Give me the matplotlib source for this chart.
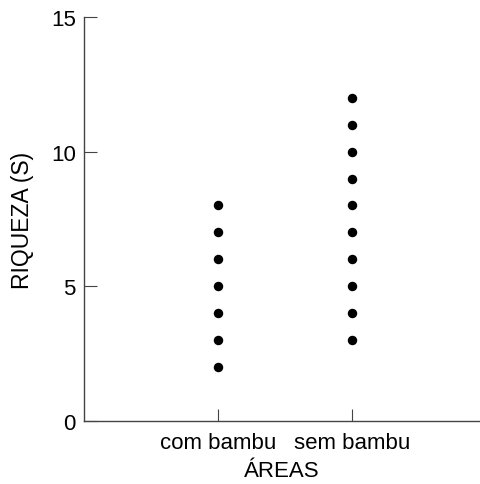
import matplotlib
matplotlib.use("Agg")
import matplotlib.pyplot as plt

plt.rcParams['font.family'] = ['Liberation Sans', 'DejaVu Sans']

categories = ["com bambu", "sem bambu"]
com_bambu = [2, 3, 4, 5, 6, 7, 8]
sem_bambu = [3, 4, 5, 6, 7, 8, 9, 10, 11, 12]
yticks = [0, 5, 10, 15]

fig = plt.figure(figsize=(4.8, 4.85), dpi=100)
ax = fig.add_axes([0.175, 0.130, 0.825, 0.833])

for i, vals in enumerate([com_bambu, sem_bambu]):
    ax.plot([i + 1] * len(vals), vals, 'o', color='black', markersize=5.8, linestyle='none')

ax.set_xlim(0, 2.955)
ax.set_ylim(0, 15)
ax.set_xticks([1, 2])
ax.set_xticklabels(categories)
ax.set_yticks(yticks)
ax.set_yticklabels([str(t) for t in yticks])

for s in ['top', 'right']:
    ax.spines[s].set_visible(False)
for s in ['left', 'bottom']:
    ax.spines[s].set_color('#444444')
    ax.spines[s].set_linewidth(1.0)

ax.tick_params(axis='both', direction='in', length=9, width=0.8, color='#444444',
               labelsize=16, pad=6)
ax.tick_params(axis='x', pad=8)

ax.set_xlabel("ÁREAS", fontsize=16, labelpad=5)
ax.set_ylabel("RIQUEZA (S)", fontsize=16.5, labelpad=12)

fig.savefig("out.png", dpi=100)
